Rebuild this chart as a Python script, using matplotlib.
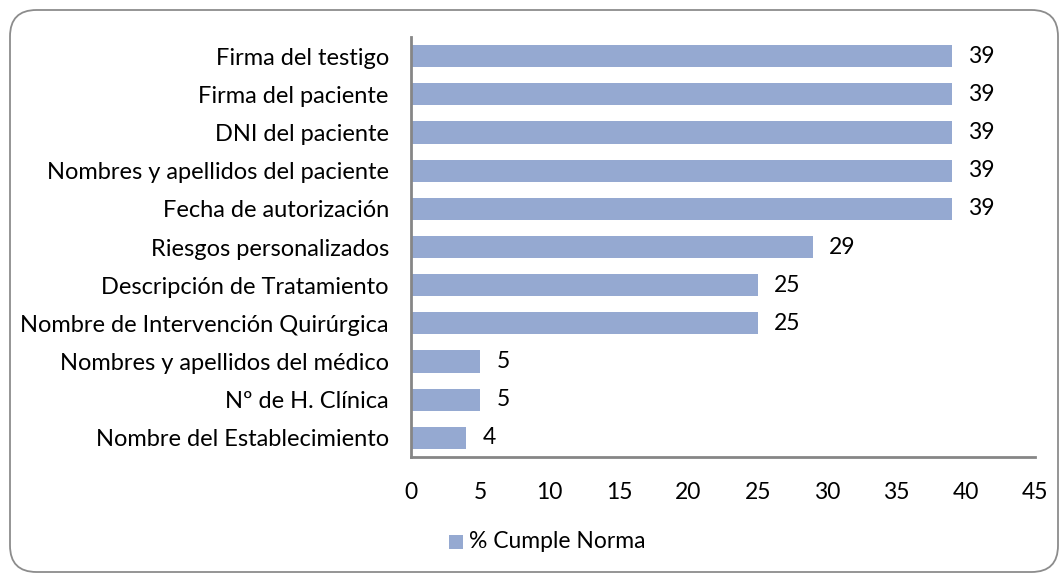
import matplotlib
matplotlib.use("Agg")
import matplotlib.pyplot as plt
from matplotlib.patches import FancyBboxPatch, Rectangle

plt.rcParams['font.family'] = ['Lato', 'DejaVu Sans']

categories = [
    "Nombre del Establecimiento",
    "Nº de H. Clínica",
    "Nombres y apellidos del médico",
    "Nombre de Intervención Quirúrgica",
    "Descripción de Tratamiento",
    "Riesgos personalizados",
    "Fecha de autorización",
    "Nombres y apellidos del paciente",
    "DNI del paciente",
    "Firma del paciente",
    "Firma del testigo",
]
values = [4, 5, 5, 25, 25, 29, 39, 39, 39, 39, 39]
xticks = [0, 5, 10, 15, 20, 25, 30, 35, 40, 45]
series_name = "% Cumple Norma"

W, H = 1059, 573
fig = plt.figure(figsize=(W / 100, H / 100), dpi=100)
fig.patch.set_facecolor("white")

# rounded frame
frame = FancyBboxPatch((10 / W, 1 - 572 / H), (1058 - 10) / W, (572 - 10) / H,
                       boxstyle="round,pad=0,rounding_size=0.025",
                       transform=fig.transFigure, facecolor="white",
                       edgecolor="#8c8c8c", linewidth=1.3, mutation_aspect=W / H,
                       zorder=-10)
fig.patches.append(frame)

ax = fig.add_axes([411 / W, 1 - 457 / H, (1035 - 411) / W, (457 - 37) / H])
ax.patch.set_alpha(0)
bar_color = "#95A9D1"
fs = 16.5
y = list(range(len(categories)))
ax.barh(y, values, height=0.58, color=bar_color, zorder=2)
ax.set_xlim(0, 45)
ax.set_ylim(-0.5, len(categories) - 0.5)
ax.set_yticks(y)
ax.set_yticklabels(categories, fontsize=17)
ax.set_xticks(xticks)
ax.set_xticklabels([str(t) for t in xticks], fontsize=fs)
ax.tick_params(axis="both", length=0)
ax.tick_params(axis="x", pad=18)
ax.tick_params(axis="y", pad=16)
for s in ["top", "right"]:
    ax.spines[s].set_visible(False)
for s in ["left", "bottom"]:
    ax.spines[s].set_color("#868686")
    ax.spines[s].set_linewidth(2)
    ax.spines[s].set_zorder(3)

for yi, v in zip(y, values):
    ax.annotate(str(v), (v, yi), xytext=(11.5, 0), textcoords="offset points",
                ha="left", va="center", fontsize=fs)

# legend
fig.patches.append(Rectangle((449 / W, 1 - 549 / H), 14 / W, 14 / H,
                             transform=fig.transFigure, facecolor=bar_color,
                             edgecolor="none"))
fig.text(469 / W, 1 - 542 / H, series_name, fontsize=fs, ha="left", va="center")

fig.savefig("out.png", dpi=100, facecolor="white")
